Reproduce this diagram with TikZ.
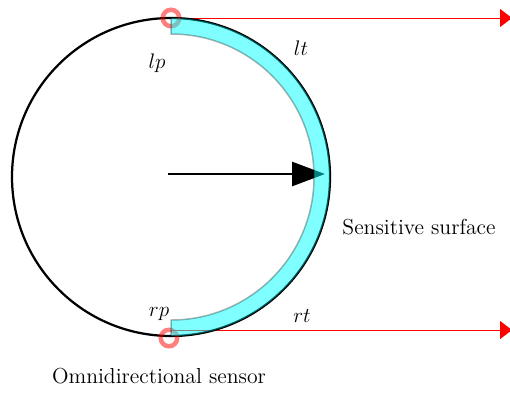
\documentclass[tikz,border=0pt]{standalone}
\usepackage{amsmath,amssymb}
\usepackage{xcolor}
\usepackage{tikz}
\usetikzlibrary{arrows.meta}
\usetikzlibrary{backgrounds,positioning}
\pgfdeclarelayer{edgelayer}
\pgfdeclarelayer{nodelayer}
\pgfsetlayers{background,edgelayer,nodelayer,main}
\definecolor{bandcyan}{rgb}{0,1,1}
\tikzstyle{none}=[inner sep=0mm]
\tikzstyle{sensor}=[shape=circle,draw=black,line width=0.045cm,minimum size=6.36cm,inner sep=0pt]
\tikzstyle{port}=[shape=circle,draw=red,opacity=0.5,line width=0.09cm,minimum size=0.33cm,inner sep=0pt]
\tikzstyle{tag}=[inner sep=0mm,font=\fontsize{12.35}{14}\selectfont]
\tikzstyle{rayedge}=[draw=red,line width=0.02cm,-{Triangle[length=0.24cm,width=0.36cm]}]
\tikzstyle{mainedge}=[draw=black,line width=0.055cm,-{Triangle[length=0.66cm,width=0.48cm]}]
\tikzstyle{surface}=[fill=bandcyan,fill opacity=0.5,draw=black,draw opacity=0.3,line width=0.03cm]

\begin{document}
\begin{tikzpicture}
	\useasboundingbox (-3.42, -4.30) rectangle (6.78, 3.54);
	\begin{pgfonlayer}{nodelayer}
		\node [style=sensor] (s) at (0, 0) {};
		\node [style=port] (lm) at (0, 3.18) {};
		\node [style=port] (rm) at (-0.04, -3.22) {};
		\node [style=none] (le) at (6.82, 3.18) {};
		\node [style=none] (re) at (6.82, -3.06) {};
		\node [style=none] (rs) at (0, -3.06) {};
		\node [style=none] (a0) at (-0.06, 0.06) {};
		\node [style=none] (a1) at (3.08, 0.06) {};
		\node [style=tag] (lp) at (-0.28, 2.28) {$lp$};
		\node [style=tag] (lt) at (2.6, 2.58) {$lt$};
		\node [style=tag] (rp) at (-0.24, -2.74) {$rp$};
		\node [style=tag] (rt) at (2.62, -2.78) {$rt$};
		\node [style=tag] (ss) at (4.96, -1.0) {Sensitive surface};
		\node [style=tag] (os) at (-0.24, -3.98) {Omnidirectional sensor};
	\end{pgfonlayer}
	\begin{pgfonlayer}{edgelayer}
		\draw [style=rayedge] (lm.center) to (le.center);
		\draw [style=rayedge] (rs.center) to (re.center);
		\draw [style=mainedge] (a0.center) to (a1.center);
	\end{pgfonlayer}
	\path [style=surface] (0, 3.18) arc (90:-90:3.18) -- (0, -2.86) arc (-90:90:2.86) -- cycle;
\end{tikzpicture}
\end{document}
